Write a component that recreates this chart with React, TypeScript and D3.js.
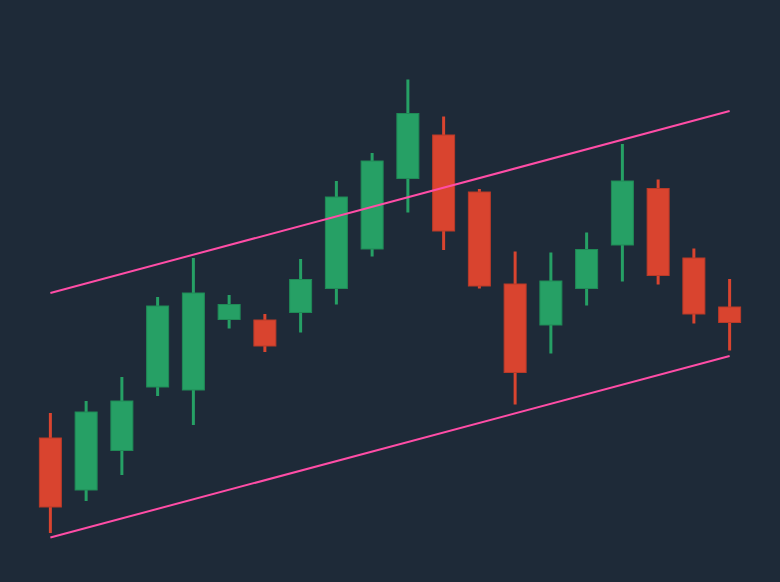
import React from "react";
import * as d3 from "d3";

const categories = Array.from({ length: 20 }, (_, i) => `D${i + 1}`);
const opens = [72.4, 62.0, 69.9, 82.6, 82.0, 96.1, 96.0, 97.5, 102.3, 110.2, 124.3, 133.0, 121.6, 103.2, 95.0, 102.3, 111.0, 122.3, 108.4, 98.6];
const closes = [58.6, 77.6, 79.8, 98.8, 101.4, 99.1, 90.8, 104.1, 120.6, 127.8, 137.3, 113.8, 102.8, 85.5, 103.8, 110.1, 123.8, 104.9, 97.2, 95.5];
const highs = [77.4, 79.8, 84.6, 100.6, 108.4, 101.0, 97.2, 108.2, 123.8, 129.4, 144.1, 136.7, 122.2, 109.7, 109.5, 113.5, 131.2, 124.1, 110.3, 104.2];
const lows = [53.4, 59.8, 65.0, 80.8, 75.0, 94.3, 89.6, 93.5, 99.1, 108.7, 117.5, 110.0, 102.3, 79.1, 89.3, 98.9, 103.7, 103.1, 95.3, 89.9];
const upperBand = [101.4, 137.8];
const lowerBand = [52.5, 88.8];

const W = 780;
const H = 582;
const UP = "#26a065";
const DOWN = "#d9442f";
const UP_STROKE = "#1f8a56";
const DOWN_STROKE = "#b93a28";
const BAND = "#ff4da6";

export default function App() {
  const x = d3.scalePoint<string>().domain(categories).range([32.5, 747.5]).padding(0.5);
  const y = d3.scaleLinear().domain([40, 160]).range([600, 0]);
  const bodyW = 22;
  const first = categories[0];
  const last = categories[categories.length - 1];
  const line = d3
    .line<[number, number]>()
    .x((d) => d[0])
    .y((d) => d[1]);

  return (
    <svg width={W} height={H} style={{ position: "absolute", left: 0, top: 0, display: "block" }}>
      <rect x={0} y={0} width={W} height={H} fill="#1e2a38" />
      {categories.map((c, i) => {
        const up = closes[i] >= opens[i];
        const cx = x(c)!;
        const top = y(Math.max(opens[i], closes[i]));
        const bot = y(Math.min(opens[i], closes[i]));
        const col = up ? UP : DOWN;
        return (
          <g key={c}>
            <line x1={cx} x2={cx} y1={y(highs[i])} y2={y(lows[i])} stroke={col} strokeWidth={3} />
            <rect
              x={cx - bodyW / 2}
              y={top}
              width={bodyW}
              height={Math.max(1, bot - top)}
              fill={col}
              stroke={up ? UP_STROKE : DOWN_STROKE}
              strokeWidth={1}
            />
          </g>
        );
      })}
      <path
        d={line([
          [x(first)!, y(upperBand[0])],
          [x(last)!, y(upperBand[1])],
        ])!}
        stroke={BAND}
        strokeWidth={2}
        fill="none"
      />
      <path
        d={line([
          [x(first)!, y(lowerBand[0])],
          [x(last)!, y(lowerBand[1])],
        ])!}
        stroke={BAND}
        strokeWidth={2}
        fill="none"
      />
    </svg>
  );
}
